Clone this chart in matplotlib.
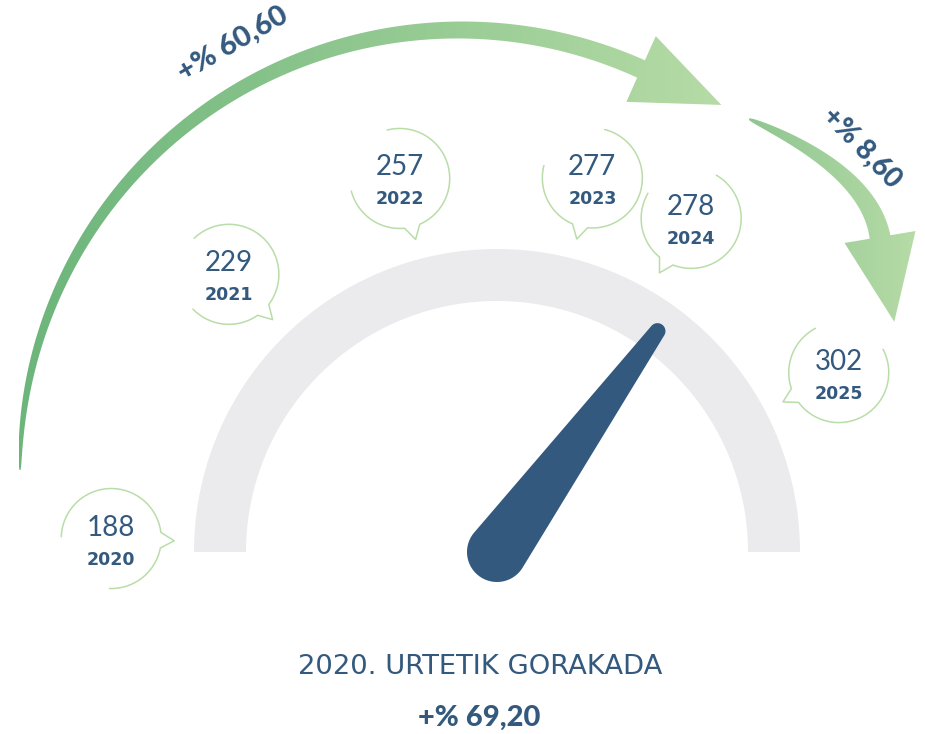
import numpy as np
import matplotlib
matplotlib.use('Agg')
import matplotlib.pyplot as plt
from matplotlib.patches import Polygon
from matplotlib.colors import to_rgb

# ---------------- data ----------------
years = ['2020', '2021', '2022', '2023', '2024', '2025']
values = [188, 229, 257, 277, 278, 302]
growth_2020_2024 = '60,60'
growth_2024_2025 = '8,60'
growth_total = '69,20'
title = '2020. URTETIK GORAKADA'

# ---------------- layout / style ----------------
W, H = 925, 734
BLUE = '#335a7e'
GREEN_LINE = '#b9dda8'
TRACK = '#ebebee'
FONT = ['Lato', 'DejaVu Sans']
gc = np.array([497.0, 552.0])          # gauge centre (pixels)
R_OUT, R_IN = 303, 251
bubble_angles = [178, 134, 104.6, 75.7, 59.8, 27.7]
bubble_dist = 386
bubble_r = 50
needle_angle = 54

plt.rcParams['font.family'] = FONT

fig = plt.figure(figsize=(W / 100, H / 100), dpi=100)
ax = fig.add_axes([0, 0, 1, 1])


def pol(c, r, a):
    a = np.radians(a)
    return np.array([c[0] + r * np.cos(a), c[1] - r * np.sin(a)])


def arc(c, r, a0, a1, n=100):
    return np.array([pol(c, r, t) for t in np.linspace(a0, a1, n)])


# gauge track
track = np.vstack([arc(gc, R_OUT, 0, 180, 200), arc(gc, R_IN, 180, 0, 200)])
ax.add_patch(Polygon(track, closed=True, facecolor=TRACK, edgecolor='none', zorder=1))

# needle
r1, r2, L = 30, 8, 273
beta = np.degrees(np.arccos((r1 - r2) / L))
tipc = pol(gc, L, needle_angle)
needle = np.vstack([arc(gc, r1, needle_angle + beta, needle_angle + 360 - beta, 120),
                    arc(tipc, r2, needle_angle - beta, needle_angle + beta, 40)])
ax.add_patch(Polygon(needle, closed=True, facecolor=BLUE, edgecolor='none', zorder=3))

# bubbles
for yr, v, ang in zip(years, values, bubble_angles):
    c = pol(gc, bubble_dist, ang)
    phi = ang + 180
    pts = np.vstack([arc(c, bubble_r, phi - 90, phi - 9, 40),
                     pol(c, 63, phi)[None, :],
                     arc(c, bubble_r, phi + 9, phi + 180, 80)])
    ax.plot(pts[:, 0], pts[:, 1], color=GREEN_LINE, lw=1.1, zorder=2,
            solid_capstyle='round')
    ax.text(c[0], c[1] - 11, str(v), ha='center', va='center', fontsize=20,
            color=BLUE, fontweight='normal')
    ax.text(c[0], c[1] + 21, yr, ha='center', va='center', fontsize=12.5,
            color=BLUE, fontweight='bold', family=['DejaVu Sans'])


def arrow_poly(center_line, widths, head_half, head_len):
    d = np.gradient(center_line, axis=0)
    d = d / np.linalg.norm(d, axis=1)[:, None]
    n = np.stack([-d[:, 1], d[:, 0]], axis=1)
    left = center_line + n * widths[:, None] / 2
    right = center_line - n * widths[:, None] / 2
    P, T, N = center_line[-1], d[-1], n[-1]
    head = np.array([P + N * head_half, P + T * head_len, P - N * head_half])
    return np.vstack([left, head, right[::-1]])


def gradient_fill(poly, c0, c1, z=1):
    xmin, xmax = poly[:, 0].min(), poly[:, 0].max()
    ymin, ymax = poly[:, 1].min(), poly[:, 1].max()
    g = np.linspace(0, 1, 256)[:, None]
    img = ((1 - g) * np.array(to_rgb(c0)) + g * np.array(to_rgb(c1)))[None, :, :]
    patch = Polygon(poly, closed=True, facecolor='none', edgecolor='none')
    ax.add_patch(patch)
    im = ax.imshow(img, extent=(xmin, xmax, ymax, ymin), aspect='auto',
                   interpolation='bilinear', zorder=z)
    im.set_clip_path(patch)


# big arrow (circular arc)
t = np.linspace(0, 1, 300)
big_c, big_R = np.array([460.0, 470.0]), 440
angs = 180 + (65.7 - 180) * t
cl = np.array([pol(big_c, big_R, a) for a in angs])
gradient_fill(arrow_poly(cl, 1 + 18 * np.sqrt(t), 36, 88), '#6cb57b', '#b6dba6')

# small arrow (quadratic bezier)
p0, p1, p2 = np.array([749.0, 119.0]), np.array([869.0, 170.6]), np.array([880.0, 237.0])
tt = t[:, None]
cl2 = (1 - tt) ** 2 * p0 + 2 * tt * (1 - tt) * p1 + tt ** 2 * p2
gradient_fill(arrow_poly(cl2, 1 + 20 * np.sqrt(t), 36, 86), '#8fc691', '#b6dba6')

# percentage labels
ax.text(233, 44, '+% ' + growth_2020_2024, rotation=30, rotation_mode='anchor',
        ha='center', va='center', fontsize=21, fontweight='black', color=BLUE)
ax.text(862, 148, '+% ' + growth_2024_2025, rotation=-46, rotation_mode='anchor',
        ha='center', va='center', fontsize=20, fontweight='black', color=BLUE)

ax.text(480, 667, title, ha='center', va='center', fontsize=19.7, color=BLUE,
        family=['DejaVu Sans'])
ax.text(479, 718, '+% ' + growth_total, ha='center', va='center', fontsize=21,
        fontweight='black', color=BLUE)

ax.set_xlim(0, W)
ax.set_ylim(H, 0)
ax.axis('off')
fig.savefig('out.png', dpi=100)
